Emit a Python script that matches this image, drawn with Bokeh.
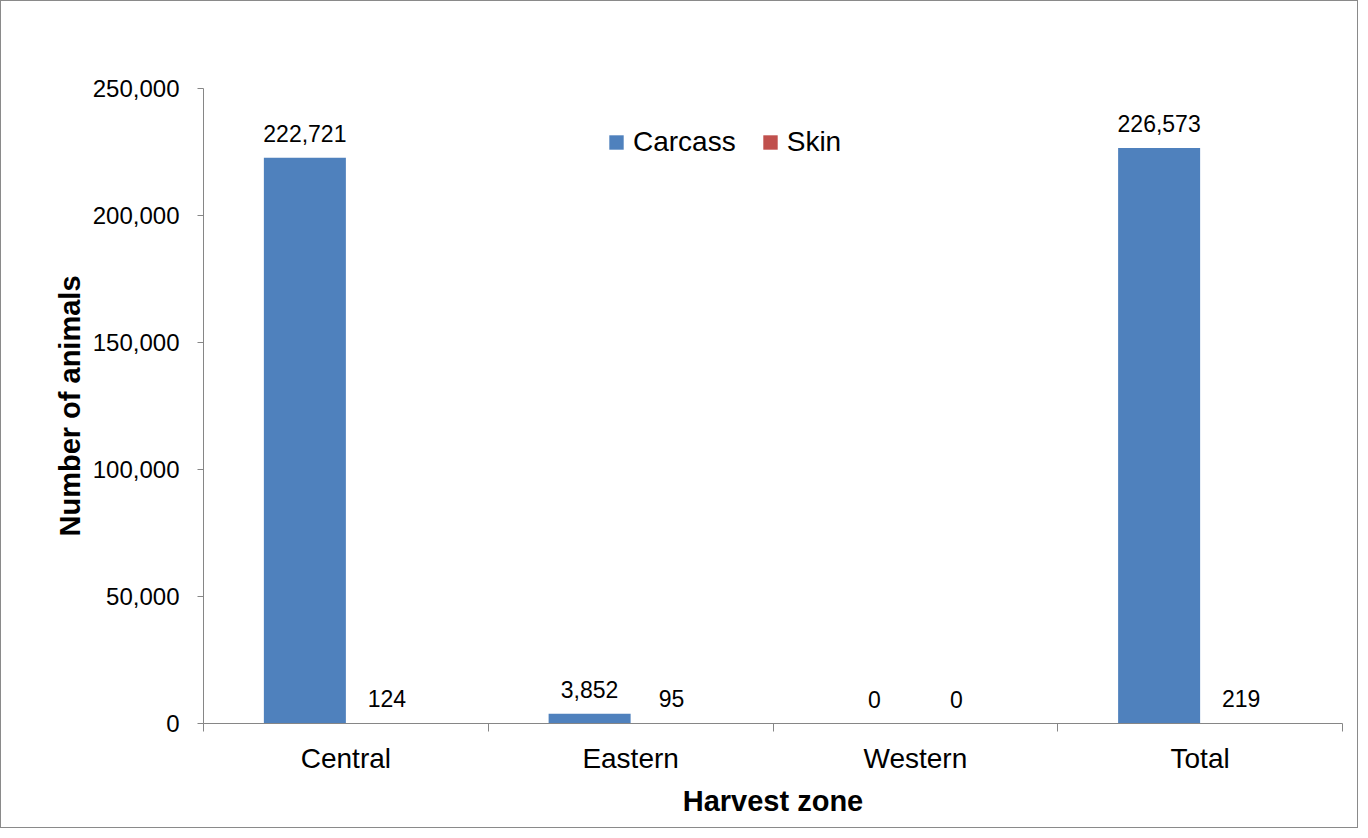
from bokeh.plotting import figure
from bokeh.models import (Range1d, FixedTicker, NumeralTickFormatter, ColumnDataSource,
                          LabelSet, Legend)
from bokeh.core.properties import value
from bokeh.transform import dodge
from bokeh.embed import file_html
from bokeh.resources import INLINE

categories = ["Central", "Eastern", "Western", "Total"]
carcass = [222721, 3852, 0, 226573]
skin = [124, 95, 0, 219]
y_ticks = [0, 50000, 100000, 150000, 200000, 250000]

FONT = "Liberation Sans"
BLUE = "#4F81BD"
RED = "#C0504D"
AXIS = "#868686"

xs = [i + 0.5 for i in range(len(categories))]
src = ColumnDataSource(dict(
    x=xs,
    carcass=carcass,
    skin=skin,
    carcass_lbl=[f"{v:,}" for v in carcass],
    skin_lbl=[f"{v:,}" for v in skin],
))

p = figure(width=1358, height=828,
           x_range=Range1d(0, len(categories)), y_range=Range1d(0, y_ticks[-1]),
           output_backend="svg", toolbar_location=None,
           min_border_left=202, min_border_right=17, min_border_top=87, min_border_bottom=106)
p.styles = {"border": "1px solid #8a8a8a"}
p.outline_line_color = None
p.xgrid.visible = False
p.ygrid.visible = False

bw = 0.288
off = bw / 2
r1 = p.vbar(x=dodge("x", -off, range=p.x_range), top="carcass", width=bw, bottom=0,
            source=src, fill_color=BLUE, line_color=None)
r2 = p.vbar(x=dodge("x", off, range=p.x_range), top="skin", width=bw, bottom=0,
            source=src, fill_color=RED, line_color=None)

for col, d in (("carcass", -off), ("skin", off)):
    lbl = LabelSet(x=dodge("x", d, range=p.x_range), y=col, text=col + "_lbl", source=src,
                   text_align="center", text_baseline="alphabetic", y_offset=16,
                   text_font=value(FONT), text_font_size=value("23px"), text_color="black")
    p.add_layout(lbl)

# y axis
ya = p.yaxis[0]
ya.ticker = FixedTicker(ticks=y_ticks)
ya.formatter = NumeralTickFormatter(format="0,0")
ya.axis_line_color = AXIS
ya.major_tick_line_color = AXIS
ya.major_tick_out = 6
ya.major_tick_in = 0
ya.minor_tick_line_color = None
ya.major_label_text_font = FONT
ya.major_label_text_font_size = "24px"
ya.major_label_text_color = "black"
ya.major_label_standoff = 18
ya.axis_label = "Number of animals"
ya.axis_label_text_font = FONT
ya.axis_label_text_font_size = "29px"
ya.axis_label_text_font_style = "bold"
ya.axis_label_text_color = "black"
ya.axis_label_standoff = 4

# x axis
xa = p.xaxis[0]
xa.ticker = FixedTicker(ticks=xs, minor_ticks=list(range(len(categories) + 1)))
xa.major_label_overrides = {x: c for x, c in zip(xs, categories)}
xa.axis_line_color = AXIS
xa.major_tick_line_color = None
xa.major_tick_out = 0
xa.major_tick_in = 0
xa.minor_tick_line_color = AXIS
xa.minor_tick_out = 8
xa.minor_tick_in = 0
xa.major_label_text_font = FONT
xa.major_label_text_font_size = "28px"
xa.major_label_text_color = "black"
xa.major_label_standoff = 11
xa.axis_label = "Harvest zone"
xa.axis_label_text_font = FONT
xa.axis_label_text_font_size = "29px"
xa.axis_label_text_font_style = "bold"
xa.axis_label_text_color = "black"
xa.axis_label_standoff = 8

legend = Legend(items=[("Carcass", [r1]), ("Skin", [r2])], orientation="horizontal",
                location=(404, 565), label_text_font=FONT, label_text_font_size="28px",
                label_text_color="black", glyph_width=18, glyph_height=18,
                label_standoff=8, spacing=25, padding=0, margin=0,
                border_line_color=None, background_fill_alpha=0)
p.add_layout(legend)

open("out.html", "w").write(file_html(p, INLINE))
